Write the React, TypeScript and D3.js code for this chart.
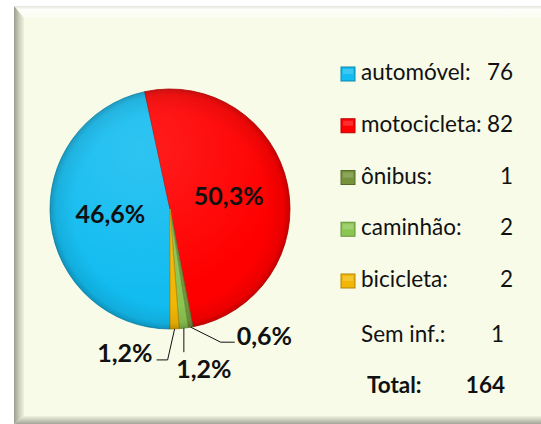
import React from 'react';
import * as d3 from 'd3';

// vehicle types involved (Excel pie, total 164 incl. 1 without info)
const categories = ['automóvel', 'motocicleta', 'ônibus', 'caminhão', 'bicicleta'];
const counts = [76, 82, 1, 2, 2];
const colors = ['#12BCF0', '#FF0000', '#76923B', '#8CC652', '#F2B705'];
const semInfLabel = 'Sem inf.:';
const semInfCount = 1;
const totalLabel = 'Total:';
const totalCount = 164;

// small slices get their label outside, with a leader line
// [elbow dx, elbow dy, end dx, text dx, text dy, anchor] relative to the rim point
const leaders: Record<number, [number, number, number, number, number, string]> = {
  2: [30, 15, 14, 2, -5, 'start'],
  3: [0, 24, 0, 20, 18, 'middle'],
  4: [-7, 31, -11, -4, -6, 'end'],
};

const W = 541, H = 424;
const cx = 170, cy = 209, R = 120;
const font = 'Lato, Carlito, Calibri, sans-serif';
const legendSize = 22.5;
const labelSize = 25;

const fmt = (v: number, sum: number) => (v / sum * 100).toFixed(1).replace('.', ',') + '%';

export default function App() {
  const sum = d3.sum(counts);
  const pie = d3.pie<number>()
    .value(d => d)
    .sort(null)
    .startAngle(Math.PI)
    .endAngle(Math.PI * 3);
  const arcs = pie(counts);
  const arc = d3.arc<d3.PieArcDatum<number>>().innerRadius(0).outerRadius(R);

  const rowY = d3.scaleLinear().domain([0, 1]).range([80, 131.75]);

  const rim = (a: d3.PieArcDatum<number>) => {
    const m = (a.startAngle + a.endAngle) / 2;
    return [cx + R * Math.sin(m), cy - R * Math.cos(m)];
  };

  return (
    <svg width={W} height={H} style={{ position: 'absolute', left: 0, top: 0 }}>
      <defs>
        <linearGradient id="bevL" x1="0" x2="1" y1="0" y2="0">
          <stop offset="0" stopColor="#9a9e8c" />
          <stop offset="0.5" stopColor="#c9cdb9" />
          <stop offset="1" stopColor="#eef2de" />
        </linearGradient>
        <linearGradient id="bevT" x1="0" x2="0" y1="0" y2="1">
          <stop offset="0" stopColor="#e4e6dc" />
          <stop offset="0.3" stopColor="#fdfefa" />
          <stop offset="1" stopColor="#fbfdf1" />
        </linearGradient>
        <linearGradient id="bevB" x1="0" x2="0" y1="0" y2="1">
          <stop offset="0" stopColor="#eef2de" />
          <stop offset="1" stopColor="#a3a697" />
        </linearGradient>
        <radialGradient id="shade" cx={cx} cy={cy} r={R} gradientUnits="userSpaceOnUse">
          <stop offset="0.8" stopColor="#000" stopOpacity="0" />
          <stop offset="0.95" stopColor="#000" stopOpacity="0.08" />
          <stop offset="1" stopColor="#000" stopOpacity="0.22" />
        </radialGradient>
        <radialGradient id="gloss" cx={cx - 30} cy={cy - 60} r={R * 1.2} gradientUnits="userSpaceOnUse">
          <stop offset="0" stopColor="#fff" stopOpacity="0.12" />
          <stop offset="1" stopColor="#fff" stopOpacity="0" />
        </radialGradient>
      </defs>

      {/* chart area with bevelled frame */}
      <rect x={0} y={0} width={W} height={H} fill="#fff" />
      <rect x={14} y={6} width={W - 14} height={H - 6} fill="#F7FBE8" />
      <polygon points={`14,6 ${W},6 ${W},18 24,18`} fill="url(#bevT)" />
      <polygon points={`14,6 24,18 24,416 14,${H}`} fill="url(#bevL)" />
      <polygon points={`24,416 ${W},416 ${W},${H} 14,${H}`} fill="url(#bevB)" />

      {/* pie */}
      <g transform={`translate(${cx},${cy})`}>
        {arcs.map((a, i) => (
          <path key={categories[i]} d={arc(a) || ''} fill={colors[i]}
            stroke={d3.color(colors[i])!.darker(0.8).toString()} strokeWidth={0.8} />
        ))}
      </g>
      <circle cx={cx} cy={cy} r={R} fill="url(#shade)" />
      <circle cx={cx} cy={cy} r={R} fill="url(#gloss)" />

      {/* labels */}
      {arcs.map((a, i) => {
        const txt = fmt(a.data, sum);
        const lead = leaders[i];
        if (!lead) {
          const [x, y] = arc.centroid(a);
          return (
            <text key={i} x={cx + x} y={cy + y + 8} textAnchor="middle"
              fontFamily={font} fontWeight="bold" fontSize={labelSize} fill="#111">{txt}</text>
          );
        }
        const [px, py] = rim(a);
        const [ex, ey, hx, tx, ty, anchor] = lead;
        return (
          <g key={i}>
            <polyline points={`${px},${py} ${px + ex},${py + ey} ${px + ex + hx},${py + ey}`}
              fill="none" stroke="#111" strokeWidth={1} />
            <text x={px + ex + hx + tx} y={py + ey + ty + 8} textAnchor={anchor}
              fontFamily={font} fontWeight="bold" fontSize={labelSize} fill="#111">{txt}</text>
          </g>
        );
      })}

      {/* legend */}
      {categories.map((c, i) => {
        const y = rowY(i);
        const col = d3.color(colors[i])!;
        return (
          <g key={c}>
            <rect x={341} y={y - 13} width={14} height={14} fill={colors[i]}
              stroke={col.darker(0.9).toString()} strokeWidth={1} />
            <rect x={343} y={y - 11} width={10} height={5} fill="#fff" opacity={0.18} />
            <text x={361} y={y} fontFamily={font} fontSize={legendSize} fill="#111">{c}:</text>
            <text x={513} y={y} textAnchor="end" fontFamily={font} fontSize={legendSize} fill="#111">{counts[i]}</text>
          </g>
        );
      })}
      <text x={361} y={342} fontFamily={font} fontSize={legendSize} fill="#111">{semInfLabel}</text>
      <text x={504} y={342} textAnchor="end" fontFamily={font} fontSize={legendSize} fill="#111">{semInfCount}</text>
      <text x={367} y={393} fontFamily={font} fontWeight="bold" fontSize={legendSize} fill="#111">{totalLabel}</text>
      <text x={505} y={393} textAnchor="end" fontFamily={font} fontWeight="bold" fontSize={legendSize} fill="#111">{totalCount}</text>
    </svg>
  );
}
